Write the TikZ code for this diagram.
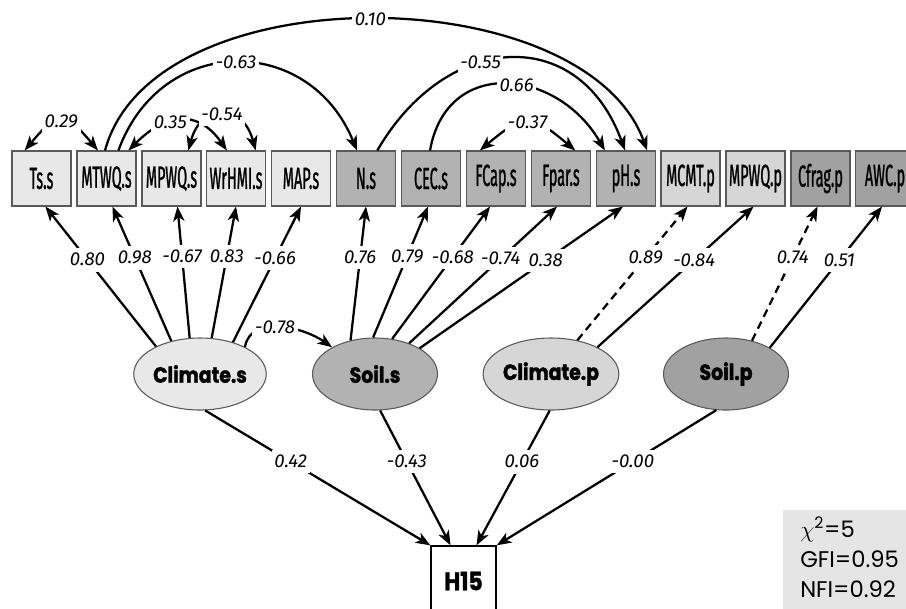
\documentclass[tikz,border=0pt]{standalone}
\usepackage{fontspec}
\usepackage{xcolor}
\usepackage{tikz}
\usetikzlibrary{arrows.meta, positioning, calc, shapes.geometric}
\newfontfamily\boxfont[FakeStretch=0.47, FakeBold=0.8]{Fira Sans}
\newfontfamily\latfont[FakeStretch=0.86, BoldFeatures={FakeBold=1.5}]{Poppins}
\newfontfamily\fitfont{Poppins}
\newfontfamily\coeffont{Fira Sans}
\definecolor{boxedge}{gray}{0.35}
\definecolor{climsgray}{gray}{0.91}
\definecolor{soilsgray}{gray}{0.70}
\definecolor{climpgray}{gray}{0.84}
\definecolor{soilpgray}{gray}{0.63}
\definecolor{fitgray}{gray}{0.90}
\tikzset{
  obs/.style={rectangle, draw=boxedge, line width=0.8pt, minimum width=44.25pt, minimum height=41.25pt, inner sep=0pt, font=\boxfont\fontsize{23}{23}\selectfont},
  lat/.style={ellipse, draw=boxedge, line width=0.8pt, minimum width=93.75pt, minimum height=54pt, inner sep=0pt, font=\latfont\bfseries\fontsize{16.5}{16.5}\selectfont},
  load/.style={-{Stealth[length=11pt, width=8.5pt, inset=3pt]}, line width=1.7pt},
  cor/.style={{Stealth[length=11pt, width=8.5pt, inset=3pt]}-{Stealth[length=11pt, width=8.5pt, inset=3pt]}, line width=1.7pt},
  coef/.style={fill=white, inner xsep=2pt, inner ysep=4pt, font=\coeffont\itshape\fontsize{14}{14}\selectfont},
  fittext/.style={anchor=base west, inner sep=0pt, font=\fitfont\fontsize{17}{17}\selectfont},
}

\begin{document}
\begin{tikzpicture}[x=0.75pt, y=-0.75pt]
    \path[use as bounding box, clip] (0,0) rectangle (906,608);

    % observed variables
    \node[obs, fill=climsgray] (Tss) at (41.5,178.5) {Ts.s};
    \node[obs, fill=climsgray] (MTWQs) at (106.5,178.5) {MTWQ.s};
    \node[obs, fill=climsgray] (MPWQs) at (171.5,178.5) {MPWQ.s};
    \node[obs, fill=climsgray] (WrHMIs) at (236,178.5) {WrHMI.s};
    \node[obs, fill=climsgray] (MAPs) at (301,178.5) {MAP.s};
    \node[obs, fill=soilsgray] (Ns) at (366,178.5) {N.s};
    \node[obs, fill=soilsgray] (CECs) at (431,178.5) {CEC.s};
    \node[obs, fill=soilsgray] (FCaps) at (496,178.5) {FCap.s};
    \node[obs, fill=soilsgray] (Fpars) at (561,178.5) {Fpar.s};
    \node[obs, fill=soilsgray] (pHs) at (626,178.5) {pH.s};
    \node[obs, fill=climpgray] (MCMTp) at (690.5,178.5) {MCMT.p};
    \node[obs, fill=climpgray] (MPWQp) at (755.5,178.5) {MPWQ.p};
    \node[obs, fill=soilpgray] (Cfragp) at (820.5,178.5) {Cfrag.p};
    \node[obs, fill=soilpgray] (AWCp) at (885,178.5) {AWC.p};

    % latent variables
    \node[lat, fill=climsgray] (Clims) at (200,374) {Climate.s};
    \node[lat, fill=soilsgray] (Soils) at (375,374) {Soil.s};
    \node[lat, fill=climpgray] (Climp) at (551,374) {Climate.p};
    \node[lat, fill=soilpgray] (Soilp) at (726,374) {Soil.p};

    % response
    \node[obs, fill=white, draw=black, line width=1pt, minimum width=48.75pt, minimum height=52.5pt, font=\latfont\bfseries\fontsize{19}{19}\selectfont] (H15) at (463.5,581) {H15};

    % loadings
    \draw[load] (Clims.148) -- node[coef, pos=0.62] {0.80} (Tss.-82);
    \draw[load] (Clims.131) -- node[coef, pos=0.62] {0.98} (MTWQs.-78);
    \draw[load] (Clims.106) -- node[coef, pos=0.62] {-0.67} (MPWQs.-78);
    \draw[load] (Clims.72) -- node[coef, pos=0.62] {0.83} (WrHMIs.south);
    \draw[load] (Clims.44) -- node[coef, pos=0.62] {-0.66} (MAPs.south);
    \draw[load] (Soils.126) -- node[coef, pos=0.62] {0.76} (Ns.south);
    \draw[load] (Soils.93) -- node[coef, pos=0.62] {0.79} (CECs.-96);
    \draw[load] (Soils.64) -- node[coef, pos=0.62] {-0.68} (FCaps.-102);
    \draw[load] (Soils.42) -- node[coef, pos=0.62] {-0.74} (Fpars.-98);
    \draw[load] (Soils.30) -- node[coef, pos=0.62] {0.38} (pHs.-96);
    \draw[load, dash pattern=on 6pt off 4pt] (Climp.52) -- node[coef, pos=0.62] {0.89} (MCMTp.-96);
    \draw[load] (Climp.30) -- node[coef, pos=0.62] {-0.84} (MPWQp.-94);
    \draw[load, dash pattern=on 6pt off 4pt] (Soilp.52) -- node[coef, pos=0.62] {0.74} (Cfragp.-96);
    \draw[load] (Soilp.31) -- node[coef, pos=0.62] {0.51} (AWCp.-96);

    % correlations
    \draw[cor] (Tss.121) to[out=50, in=130, looseness=1.8] node[coef] {0.29} (MTWQs.107);
    \draw[cor] (MTWQs.52) to[out=45, in=125, looseness=1.35] node[coef, pos=0.4] {0.35} (WrHMIs.108);
    \draw[cor] (MPWQs.59) to[out=75, in=105, looseness=1.9] node[coef] {-0.54} (WrHMIs.55);
    \draw[cor] (FCaps.120) to[out=40, in=140, looseness=1.55] node[coef] {-0.37} (Fpars.63);
    \draw[load] (MTWQs.93) to[out=75, in=110, looseness=0.87] node[coef] {0.10} (pHs.53);
    \draw[load] (MTWQs.67) to[out=70, in=112, looseness=1.35] node[coef] {-0.63} (Ns.108);
    \draw[load] (Ns.68) to[out=60, in=110, looseness=1.41] node[coef, pos=0.4] {-0.55} (pHs.92);
    \draw[load] (CECs.92) to[out=80, in=120, looseness=1.4] node[coef, pos=0.55] {0.66} (pHs.127);
    \draw[load] (Clims.31) to[out=80, in=145, looseness=1] node[coef, pos=0.45] {-0.78} (Soils.148);

    % paths to H15
    \draw[load] (Clims.-82) -- node[coef, pos=0.38] {0.42} (H15.north west);
    \draw[load] (Soils.-82) -- node[coef, pos=0.38] {-0.43} ($(H15.north)+(-13,0)$);
    \draw[load] (Climp.-92) -- node[coef, pos=0.38] {0.06} ($(H15.north)+(13,0)$);
    \draw[load] (Soilp.-105) -- node[coef, pos=0.38] {-0.00} (H15.north east);

    % fit
    \fill[fitgray] (783,510) rectangle (910,612);
    \node[fittext] (chi) at (800,537) {$\chi$\textsuperscript{2}=5};
    \node[fittext] (gfi) at (800,567) {GFI=0.95};
    \node[fittext] (nfi) at (800,597) {NFI=0.92};
\end{tikzpicture}
\end{document}
